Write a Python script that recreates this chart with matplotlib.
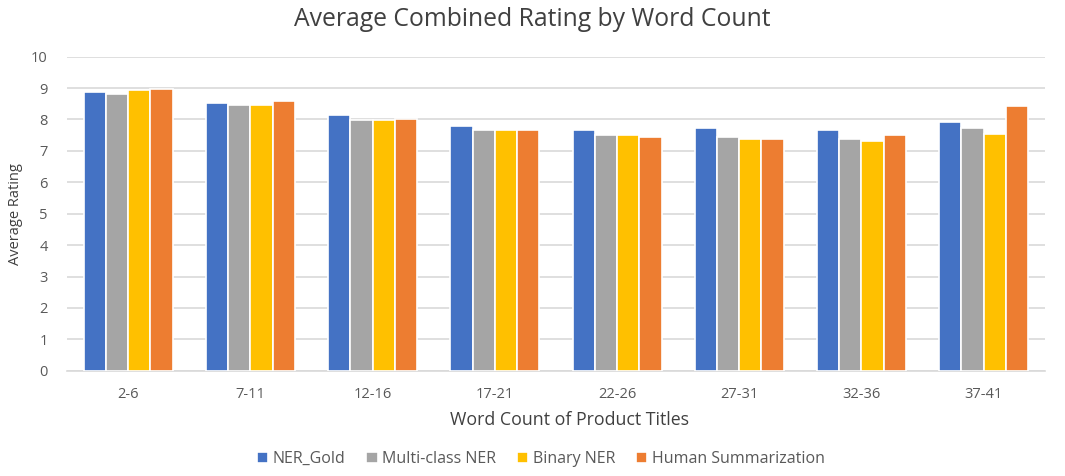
import numpy as np
import matplotlib.pyplot as plt

plt.rcParams['font.family'] = ['Open Sans', 'DejaVu Sans']

groups = ['2-6', '7-11', '12-16', '17-21', '22-26', '27-31', '32-36', '37-41']
series = ['NER_Gold', 'Multi-class NER', 'Binary NER', 'Human Summarization']
ner_gold = [8.87, 8.52, 8.13, 7.79, 7.68, 7.74, 7.68, 7.91]
multi_ner = [8.82, 8.47, 7.98, 7.68, 7.51, 7.44, 7.38, 7.74]
binary_ner = [8.93, 8.47, 7.98, 7.68, 7.51, 7.38, 7.33, 7.55]
human_sum = [8.98, 8.59, 8.02, 7.68, 7.44, 7.38, 7.51, 8.43]
colors = ['#4472C4', '#A5A5A5', '#FFC000', '#ED7D31']

fig = plt.figure(figsize=(10.65, 4.76), dpi=100)
ax = fig.add_axes([0.063, 0.221, 0.918, 0.66])

x = np.arange(len(groups))
step = 0.182
for i, (vals, name) in enumerate(zip([ner_gold, multi_ner, binary_ner, human_sum], series)):
    ax.bar(x + (i - 1.5) * step, vals, width=step, color=colors[i],
           edgecolor='white', linewidth=1.2, label=name, zorder=3)

ax.set_xlim(-0.5, len(groups) - 0.5)
ax.set_ylim(0, 10)
ax.set_yticks(range(0, 11))
ax.yaxis.grid(True, color='#D9D9D9', linewidth=1.2, zorder=0)
for s in ['top', 'right', 'left']:
    ax.spines[s].set_visible(False)
ax.spines['bottom'].set_color('#D9D9D9')
ax.spines['bottom'].set_linewidth(1.2)
ax.tick_params(axis='both', length=0, colors='#595959', labelsize=10.5)
ax.tick_params(axis='x', pad=12)
ax.tick_params(axis='y', pad=14)
ax.set_xticks(x)
ax.set_xticklabels(groups)

fig.text(0.5, 0.96, 'Average Combined Rating by Word Count', fontsize=17.8,
         color='#404040', ha='center', va='center')
fig.text(0.535, 0.118, 'Word Count of Product Titles', fontsize=12.8,
         color='#404040', ha='center', va='center')
ax.set_ylabel('Average Rating', fontsize=10.5, color='#404040', labelpad=6)

fig.legend(loc='lower center', bbox_to_anchor=(0.508, -0.012), ncol=4, frameon=False,
           fontsize=11.5, handlelength=0.7, handleheight=0.7, handletextpad=0.3,
           columnspacing=1.3, labelcolor='#595959')

fig.savefig('out.png', dpi=100)
